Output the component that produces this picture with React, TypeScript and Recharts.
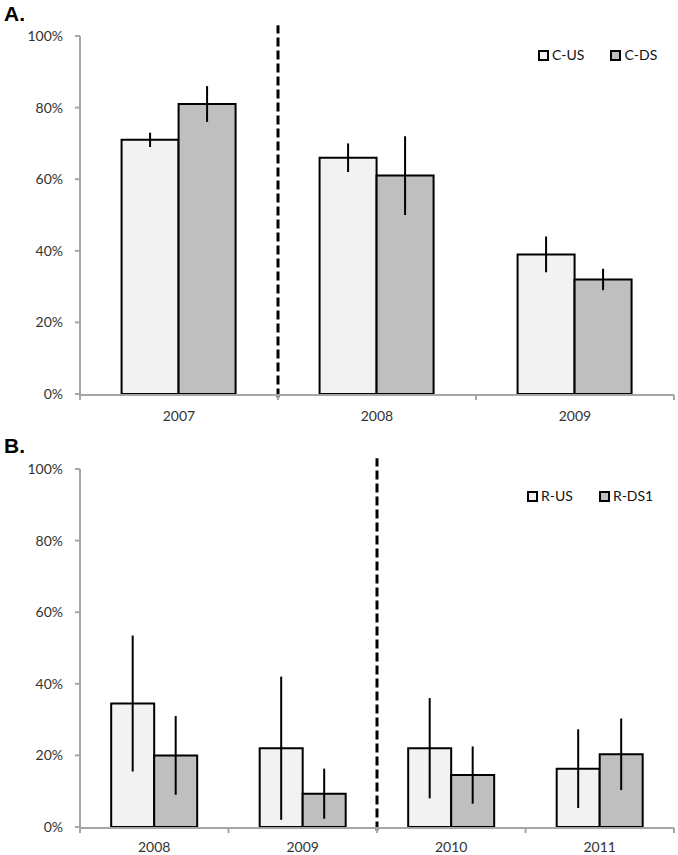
import React from 'react';
import { BarChart, Bar, XAxis, YAxis, ErrorBar, ReferenceLine, Legend } from 'recharts';

// Panel A
const yearsA = ['2007', '2008', '2009'];
const cUS = [71, 66, 39];
const cUSErr = [2, 4, 5];
const cDS = [81, 61, 32];
const cDSErr = [5, 11, 3];

// Panel B
const yearsB = ['2008', '2009', '2010', '2011'];
const rUS = [34.5, 22, 22, 16.3];
const rUSErr = [19, 20, 14, 11];
const rDS1 = [20, 9.3, 14.5, 20.3];
const rDS1Err = [11, 7, 8, 10];

const yTicks = [0, 20, 40, 60, 80, 100];

const LIGHT = '#f2f2f2';
const DARK = '#bfbfbf';
const AXIS = '#a6a6a6';
const FONT = 'Lato, "Open Sans", sans-serif';

const dataA = yearsA.map((year, i) => ({ year, a: cUS[i], aErr: cUSErr[i], b: cDS[i], bErr: cDSErr[i] }));
const dataB = yearsB.map((year, i) => ({ year, a: rUS[i], aErr: rUSErr[i], b: rDS1[i], bErr: rDS1Err[i] }));

const renderLegend = (props: any) => {
  // keep series order (legend sorts by name otherwise)
  const payload = [...(props.payload || [])].sort((p: any, q: any) =>
    String(p.dataKey).localeCompare(String(q.dataKey))
  );
  return (
    <div style={{ display: 'flex', alignItems: 'center', fontFamily: FONT, fontSize: 14, color: '#111', lineHeight: '18px' }}>
      {payload.map((entry: any, i: number) => (
        <div key={entry.value} style={{ display: 'flex', alignItems: 'center', marginLeft: i === 0 ? 0 : 26 }}>
          <span
            style={{
              display: 'inline-block',
              width: 7,
              height: 7,
              border: '2px solid #000',
              background: entry.color,
              marginRight: 3,
            }}
          />
          <span>{entry.value}</span>
        </div>
      ))}
    </div>
  );
};

interface PanelProps {
  data: any[];
  names: [string, string];
  height: number;
  top: number;
  axisHeight: number;
  labelGap: number;
  divider: number;
  legendPos: { left: number; top: number };
  count: number;
}

function Panel({ data, names, height, top, axisHeight, labelGap, divider, legendPos, count }: PanelProps) {
  const edges = Array.from({ length: count + 1 }, (_, i) => i);
  return (
    <BarChart
      width={678}
      height={height}
      data={data}
      margin={{ top, right: 4, left: 0, bottom: 0 }}
      barCategoryGap="21%"
      barGap={0}
      style={{ fontFamily: FONT }}
    >
      <XAxis
        xAxisId="cat"
        dataKey="year"
        height={1}
        axisLine={false}
        tickLine={false}
        tickSize={5}
        tickMargin={labelGap}
        tick={{ fill: '#333', fontSize: 14, fontFamily: FONT }}
      />
      {/* numeric axis spanning the category edges: draws the baseline and the boundary ticks */}
      <XAxis
        xAxisId="edge"
        dataKey="edge"
        type="number"
        domain={[0, count]}
        allowDataOverflow
        ticks={edges}
        interval={0}
        tickFormatter={() => ''}
        tickSize={5}
        height={axisHeight - 1}
        axisLine={{ stroke: AXIS, strokeWidth: 2 }}
        tickLine={{ stroke: AXIS, strokeWidth: 2 }}
      />
      <YAxis
        width={80}
        domain={[0, 100]}
        ticks={yTicks}
        tickFormatter={(v: number) => `${v}%`}
        axisLine={{ stroke: AXIS, strokeWidth: 2 }}
        tickLine={{ stroke: AXIS, strokeWidth: 2 }}
        tickSize={5}
        tickMargin={12}
        tick={{ fill: '#333', fontSize: 14, fontFamily: FONT }}
      />
      <Legend
        layout="horizontal"
        verticalAlign="middle"
        align="center"
        content={renderLegend}
        wrapperStyle={{ left: legendPos.left, top: legendPos.top, width: 'auto' }}
      />
      <Bar xAxisId="cat" dataKey="a" name={names[0]} fill={LIGHT} stroke="#000" strokeWidth={2} isAnimationActive={false}>
        <ErrorBar dataKey="aErr" width={0} stroke="#000" strokeWidth={2} />
      </Bar>
      <Bar xAxisId="cat" dataKey="b" name={names[1]} fill={DARK} stroke="#000" strokeWidth={2} isAnimationActive={false}>
        <ErrorBar dataKey="bErr" width={0} stroke="#000" strokeWidth={2} />
      </Bar>
      <ReferenceLine
        xAxisId="edge"
        segment={[{ x: divider, y: -1 }, { x: divider, y: 103 }]}
        ifOverflow="visible"
        stroke="#000"
        strokeWidth={3}
        strokeDasharray="9 4"
      />
    </BarChart>
  );
}

const panelLabel: React.CSSProperties = {
  position: 'absolute',
  left: 4,
  fontFamily: '"Liberation Sans", Arial, sans-serif',
  fontWeight: 'bold',
  fontSize: 21,
  lineHeight: '21px',
  color: '#000',
};

export default function App() {
  return (
    <div style={{ position: 'absolute', left: 0, top: 0, width: 678, height: 855, background: '#fff' }}>
      <div style={{ position: 'absolute', left: 0, top: 0 }}>
        <Panel
          data={dataA}
          names={['C-US', 'C-DS']}
          height={430}
          top={36}
          axisHeight={36}
          labelGap={12}
          divider={1}
          legendPos={{ left: 538, top: 46 }}
          count={yearsA.length}
        />
      </div>
      <div style={{ position: 'absolute', left: 0, top: 430 }}>
        <Panel
          data={dataB}
          names={['R-US', 'R-DS1']}
          height={425}
          top={39}
          axisHeight={28}
          labelGap={10}
          divider={2}
          legendPos={{ left: 527, top: 57 }}
          count={yearsB.length}
        />
      </div>
      <div style={{ ...panelLabel, top: 3 }}>A.</div>
      <div style={{ ...panelLabel, top: 435 }}>B.</div>
    </div>
  );
}
